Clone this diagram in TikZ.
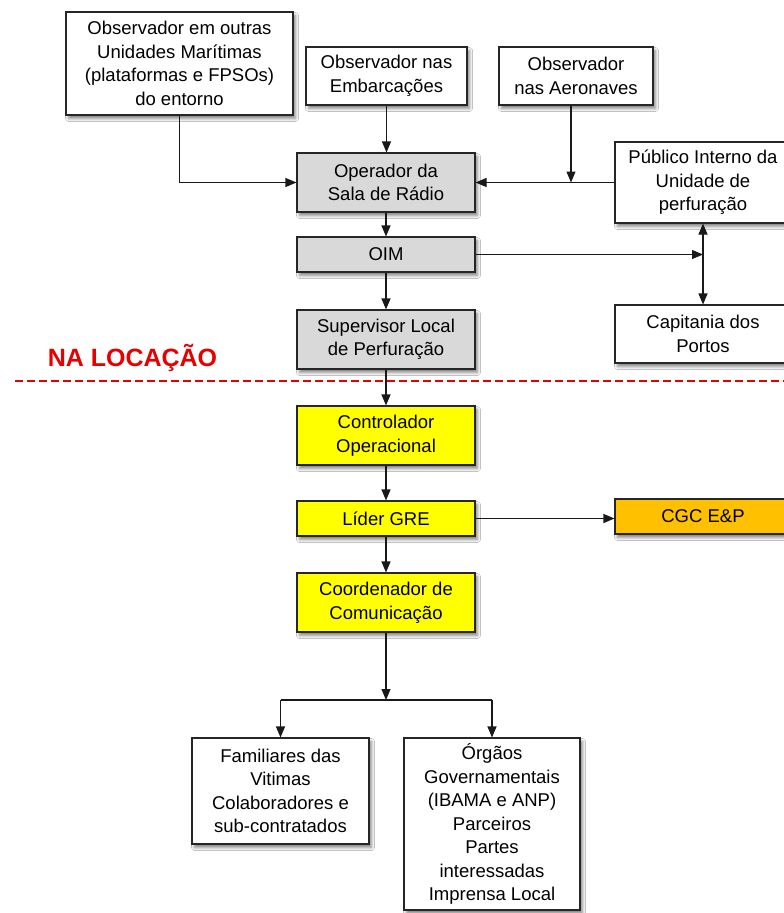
\documentclass[tikz,border=0pt]{standalone}
\usepackage{fontspec}
\setmainfont{Liberation Sans}
\usetikzlibrary{arrows.meta,shadows.blur}

\definecolor{boxgray}{HTML}{D9D9D9}
\definecolor{boxyellow}{HTML}{FFFF00}
\definecolor{boxorange}{HTML}{FFC000}
\definecolor{zonered}{HTML}{E60000}

\tikzset{
  flowbox/.style={draw=black!85, line width=1.1pt, align=center, inner sep=2pt,
    font=\fontsize{18.5}{23.5}\selectfont,
    blur shadow={shadow xshift=2.5pt, shadow yshift=-3.5pt, shadow blur radius=3pt,
                 shadow blur steps=6, shadow opacity=50}},
  whitebox/.style={flowbox, fill=white},
  graybox/.style={flowbox, fill=boxgray},
  yellowbox/.style={flowbox, fill=boxyellow},
  orangebox/.style={flowbox, fill=boxorange},
  link/.style={line width=1.1pt, draw=black!90},
  arr/.style={link, -{Triangle[length=11pt,width=9pt]}},
  dblarr/.style={link, {Triangle[length=11pt,width=9pt]}-{Triangle[length=11pt,width=9pt]}},
}

\begin{document}
\begin{tikzpicture}[x=1pt, y=-1pt]
\useasboundingbox (0,0) rectangle (784,913);
\fill[white] (0,0) rectangle (784,913);

% observers
\node[whitebox, minimum width=227, minimum height=103] (obs1) at (179.5,63.5)
  {Observador em outras\\Unidades Marítimas\\(plataformas e FPSOs)\\do entorno};
\node[whitebox, minimum width=161, minimum height=58] (obs2) at (386.5,76)
  {Observador nas\\Embarcações};
\node[whitebox, minimum width=154, minimum height=58] (obs3) at (576,76)
  {Observador\\nas Aeronaves};

% main column
\node[graybox, minimum width=178, minimum height=59] (oper) at (386,182.5)
  {Operador da\\Sala de Rádio};
\node[graybox, minimum width=178, minimum height=35] (oim) at (386,254.5) {OIM};
\node[graybox, minimum width=178, minimum height=59] (sup) at (386,339.5)
  {Supervisor Local\\de Perfuração};
\node[yellowbox, minimum width=178, minimum height=59] (ctrl) at (386,435.5)
  {Controlador\\Operacional};
\node[yellowbox, minimum width=178, minimum height=35] (lider) at (386,518.5) {Líder GRE};
\node[yellowbox, minimum width=178, minimum height=59] (coord) at (386,602.5)
  {Coordenador de\\Comunicação};

% right column
\node[whitebox, minimum width=176, minimum height=81] (pub) at (703,182.5)
  {Público Interno da\\Unidade de\\perfuração};
\node[whitebox, minimum width=176, minimum height=58] (cap) at (703,334)
  {Capitania dos\\Portos};
\node[orangebox, minimum width=176, minimum height=35] (cgc) at (703,516.5) {CGC E\&P};

% audiences
\node[whitebox, minimum width=177, minimum height=106] (fam) at (280.5,791)
  {Familiares das\\Vitimas\\Colaboradores e\\sub-contratados};
\node[whitebox, minimum width=176, minimum height=172] (org) at (492,824)
  {Órgãos\\Governamentais\\(IBAMA e ANP)\\Parceiros\\Partes\\interessadas\\Imprensa Local};

% zone boundary
\node[text=zonered, font=\fontsize{25}{28}\selectfont\bfseries, anchor=base] (zone)
  at (132.5,366) {NA LOCAÇÃO};
\coordinate (zl) at (15,381);
\coordinate (zr) at (784,381);
\draw[zonered, line width=1.3pt, dash pattern=on 8pt off 4pt] (zl) -- (zr);

% junction points
\coordinate (j1) at (571,182.5);
\coordinate (split) at (386,700);

% connectors
\draw[arr] (obs1.south) |- (oper.west);
\draw[arr] (obs2.south) -- (obs2.south |- oper.north);
\draw[arr] (pub.west) -- (oper.east);
\draw[arr] (obs3.south -| j1) -- (j1);
\draw[arr] (oper.south) -- (oim.north);
\draw[arr] (oim.south) -- (sup.north);
\draw[arr] (oim.east) -- (oim.east -| pub.south);
\draw[dblarr] (pub.south) -- (pub.south |- cap.north);
\draw[arr] (sup.south) -- (ctrl.north);
\draw[arr] (ctrl.south) -- (lider.north);
\draw[arr] (lider.east) -- (lider.east -| cgc.west);
\draw[arr] (lider.south) -- (coord.north);
\draw[arr] (coord.south) -- (split);
\draw[link] (split -| fam.north) -- (split -| org.north);
\draw[arr] (split -| fam.north) -- (fam.north);
\draw[arr] (split -| org.north) -- (org.north);
\end{tikzpicture}
\end{document}
